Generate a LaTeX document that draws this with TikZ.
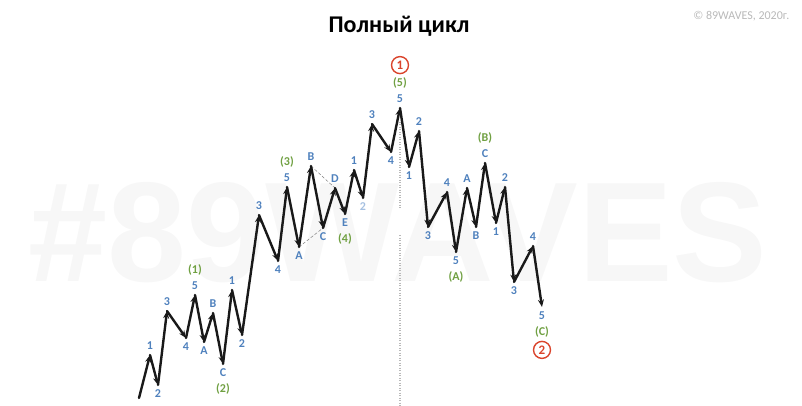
\documentclass[tikz,border=0pt]{standalone}
\usepackage{fontspec}
\setmainfont{Carlito}
\newfontfamily\wmfont{Liberation Sans}
\usetikzlibrary{arrows.meta,positioning}

\definecolor{wblue}{RGB}{79,129,189}
\definecolor{wpale}{RGB}{165,192,225}
\definecolor{wgreen}{RGB}{112,160,66}
\definecolor{wred}{RGB}{218,68,44}
\definecolor{wmark}{RGB}{247,247,247}
\definecolor{wgray}{RGB}{185,185,185}

\begin{document}
\begin{tikzpicture}[
    x=1pt,
    y=-1pt,
    >={Stealth[length=7.5pt,width=6pt]},
    line cap=round,
    line join=round,
    wave/.style={->,line width=2.4pt,black!90},
    num/.style={text=wblue,font=\bfseries\fontsize{12}{12}\selectfont,
        inner sep=0.5pt,text height=7.5pt,text depth=0pt},
    deg/.style={text=wgreen,font=\bfseries\fontsize{12}{12}\selectfont,
        inner sep=0.5pt,text height=8.5pt,text depth=2.4pt},
    cyc/.style={circle,draw=wred,line width=1.4pt,text=wred,
        font=\bfseries\fontsize{13}{13}\selectfont,inner sep=0pt,minimum size=17pt},
    chan/.style={gray,densely dashed,line width=0.5pt},
    vline/.style={wgray,line cap=butt,dash pattern=on 1pt off 1.5pt,line width=1.2pt}
]

\useasboundingbox (0,0) rectangle (802,406);

% Watermark behind everything
\node[text=wmark,font=\wmfont\bfseries\fontsize{142}{142}\selectfont,
    anchor=base,inner sep=0pt] (wm) at (398,281) {\#89WAVES};

% Title and copyright
\node[font=\bfseries\fontsize{24}{24}\selectfont,anchor=base] (title)
    at (399,33) {Полный цикл};
\node[text=wgray,font=\fontsize{12}{12}\selectfont,anchor=base east] (copy)
    at (793,20) {© 89WAVES, 2020г.};

% Wave points
\coordinate (p0)  at (139,398);
\coordinate (p1)  at (150,355);
\coordinate (p2)  at (158,385);
\coordinate (p3)  at (167,311);
\coordinate (p4)  at (186,338);
\coordinate (p5)  at (195,295);
\coordinate (p6)  at (204,342);
\coordinate (p7)  at (213,313);
\coordinate (p8)  at (223,364);
\coordinate (p9)  at (232,290);
\coordinate (p10) at (242,335);
\coordinate (p11) at (259,215);
\coordinate (p12) at (278,261);
\coordinate (p13) at (287,187);
\coordinate (p14) at (299,247);
\coordinate (p15) at (311,166);
\coordinate (p16) at (323,228);
\coordinate (p17) at (335,188);
\coordinate (p18) at (345,214);
\coordinate (p19) at (354,170);
\coordinate (p20) at (363,198);
\coordinate (p21) at (372,124);
\coordinate (p22) at (391,152);
\coordinate (p23) at (400,108);
\coordinate (p24) at (409,167);
\coordinate (p25) at (419,131);
\coordinate (p26) at (428,227);
\coordinate (p27) at (447,192);
\coordinate (p28) at (456,252);
\coordinate (p29) at (467,188);
\coordinate (p30) at (476,227);
\coordinate (p31) at (485,163);
\coordinate (p32) at (496,223);
\coordinate (p33) at (505,187);
\coordinate (p34) at (514,282);
\coordinate (p35) at (533,246);
\coordinate (p36) at (542,307);

% Dotted line under the top
\coordinate (v1) at (400,122);
\coordinate (v2) at (400,209);
\coordinate (v3) at (400,235);
\coordinate (v4) at (400,406);
\draw[vline] (v1) -- (v2) (v3) -- (v4);

% Triangle channel lines
\draw[chan,shorten >=-4pt] (p14) -- (p16);
\draw[chan] (p15) -- (p17);

% The wave itself
\foreach \i [count=\j from 1] in {0,...,35}
    \draw[wave] (p\i) -- (p\j);

% Wave counts
\foreach \i/\s/\t in {1/above/1,2/below/2,3/above/3,4/below/4,5/above/5,
        6/below/A,7/above/B,8/below/C,9/above/1,10/below/2,
        11/above/3,12/below/4,13/above/5,14/below/A,15/above/B,16/below/C,
        17/above/D,18/below/E,19/above/1,21/above/3,22/below/4,23/above/5,
        24/below/1,25/above/2,26/below/3,27/above/4,28/below/5,29/above/A,
        30/below/B,31/above/C,32/below/1,33/above/2,34/below/3,35/above/4,
        36/below/5}
    \node[num,\s=4.5pt of p\i] (n\i) {\t};
\node[num,text=wpale,below=4.5pt of p20] (n20) {2};

% Higher degree counts
\node[deg,above=5pt of n5]  (g1) {(1)};
\node[deg,below=6pt of n8]  (g2) {(2)};
\node[deg,above=5pt of n13] (g3) {(3)};
\node[deg,below=6pt of n18] (g4) {(4)};
\node[deg,above=5pt of n23] (g5) {(5)};
\node[deg,below=6pt of n28] (gA) {(A)};
\node[deg,above=5pt of n31] (gB) {(B)};
\node[deg,below=6pt of n36] (gC) {(C)};

% Cycle marks
\node[cyc,above=3pt of g5] (c1) {1};
\node[cyc,below=2pt of gC] (c2) {2};

\end{tikzpicture}
\end{document}
